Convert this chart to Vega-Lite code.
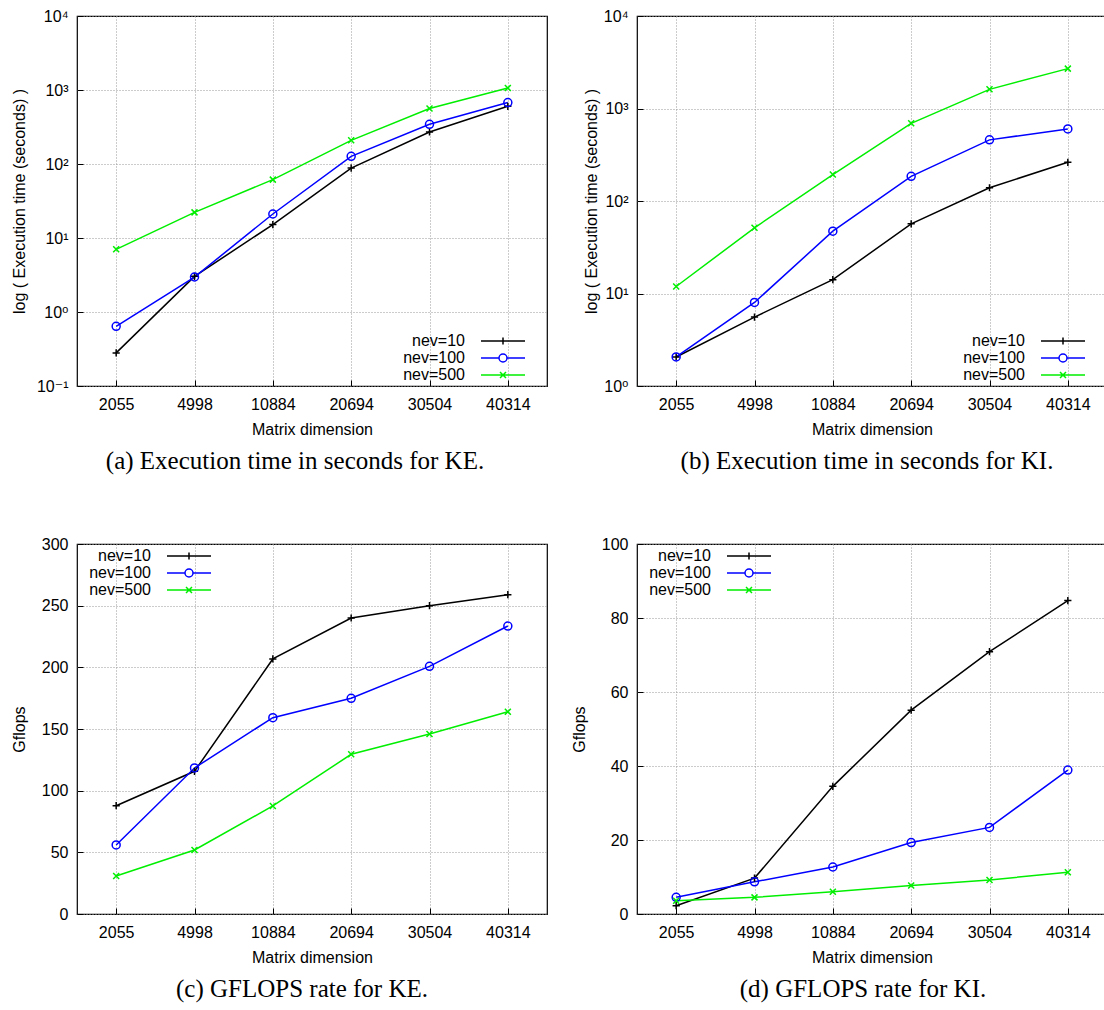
{
  "$schema": "https://vega.github.io/schema/vega-lite/v6.json",
  "padding": {"left": 10, "top": 7, "right": 0, "bottom": 0},
  "background": "white",
  "datasets": {
    "ke_time": [
      {"dim": 2055, "nev": "nev=10", "v": 0.28},
      {"dim": 4998, "nev": "nev=10", "v": 3.03},
      {"dim": 10884, "nev": "nev=10", "v": 15.2},
      {"dim": 20694, "nev": "nev=10", "v": 88},
      {"dim": 30504, "nev": "nev=10", "v": 271},
      {"dim": 40314, "nev": "nev=10", "v": 602},
      {"dim": 2055, "nev": "nev=100", "v": 0.64},
      {"dim": 4998, "nev": "nev=100", "v": 2.97},
      {"dim": 10884, "nev": "nev=100", "v": 21.1},
      {"dim": 20694, "nev": "nev=100", "v": 127},
      {"dim": 30504, "nev": "nev=100", "v": 344},
      {"dim": 40314, "nev": "nev=100", "v": 676},
      {"dim": 2055, "nev": "nev=500", "v": 7.03},
      {"dim": 4998, "nev": "nev=500", "v": 22.2},
      {"dim": 10884, "nev": "nev=500", "v": 61.5},
      {"dim": 20694, "nev": "nev=500", "v": 209},
      {"dim": 30504, "nev": "nev=500", "v": 561},
      {"dim": 40314, "nev": "nev=500", "v": 1064}
    ],
    "ki_time": [
      {"dim": 2055, "nev": "nev=10", "v": 2.06},
      {"dim": 4998, "nev": "nev=10", "v": 5.56},
      {"dim": 10884, "nev": "nev=10", "v": 14.1},
      {"dim": 20694, "nev": "nev=10", "v": 56.7},
      {"dim": 30504, "nev": "nev=10", "v": 139},
      {"dim": 40314, "nev": "nev=10", "v": 262},
      {"dim": 2055, "nev": "nev=100", "v": 2.06},
      {"dim": 4998, "nev": "nev=100", "v": 8.0},
      {"dim": 10884, "nev": "nev=100", "v": 47.2},
      {"dim": 20694, "nev": "nev=100", "v": 185},
      {"dim": 30504, "nev": "nev=100", "v": 458},
      {"dim": 40314, "nev": "nev=100", "v": 602},
      {"dim": 2055, "nev": "nev=500", "v": 11.9},
      {"dim": 4998, "nev": "nev=500", "v": 51.3},
      {"dim": 10884, "nev": "nev=500", "v": 193},
      {"dim": 20694, "nev": "nev=500", "v": 692},
      {"dim": 30504, "nev": "nev=500", "v": 1611},
      {"dim": 40314, "nev": "nev=500", "v": 2698}
    ],
    "ke_gflops": [
      {"dim": 2055, "nev": "nev=10", "v": 87.8},
      {"dim": 4998, "nev": "nev=10", "v": 115.7},
      {"dim": 10884, "nev": "nev=10", "v": 206.8},
      {"dim": 20694, "nev": "nev=10", "v": 240},
      {"dim": 30504, "nev": "nev=10", "v": 250},
      {"dim": 40314, "nev": "nev=10", "v": 258.9},
      {"dim": 2055, "nev": "nev=100", "v": 56},
      {"dim": 4998, "nev": "nev=100", "v": 118.4},
      {"dim": 10884, "nev": "nev=100", "v": 159.2},
      {"dim": 20694, "nev": "nev=100", "v": 174.9},
      {"dim": 30504, "nev": "nev=100", "v": 200.8},
      {"dim": 40314, "nev": "nev=100", "v": 233.5},
      {"dim": 2055, "nev": "nev=500", "v": 30.8},
      {"dim": 4998, "nev": "nev=500", "v": 51.9},
      {"dim": 10884, "nev": "nev=500", "v": 87.6},
      {"dim": 20694, "nev": "nev=500", "v": 129.5},
      {"dim": 30504, "nev": "nev=500", "v": 146},
      {"dim": 40314, "nev": "nev=500", "v": 164}
    ],
    "ki_gflops": [
      {"dim": 2055, "nev": "nev=10", "v": 2.25},
      {"dim": 4998, "nev": "nev=10", "v": 9.7},
      {"dim": 10884, "nev": "nev=10", "v": 34.5},
      {"dim": 20694, "nev": "nev=10", "v": 55.1},
      {"dim": 30504, "nev": "nev=10", "v": 70.9},
      {"dim": 40314, "nev": "nev=10", "v": 84.7},
      {"dim": 2055, "nev": "nev=100", "v": 4.5},
      {"dim": 4998, "nev": "nev=100", "v": 8.7},
      {"dim": 10884, "nev": "nev=100", "v": 12.7},
      {"dim": 20694, "nev": "nev=100", "v": 19.3},
      {"dim": 30504, "nev": "nev=100", "v": 23.4},
      {"dim": 40314, "nev": "nev=100", "v": 38.9},
      {"dim": 2055, "nev": "nev=500", "v": 3.6},
      {"dim": 4998, "nev": "nev=500", "v": 4.5},
      {"dim": 10884, "nev": "nev=500", "v": 6.0},
      {"dim": 20694, "nev": "nev=500", "v": 7.7},
      {"dim": 30504, "nev": "nev=500", "v": 9.2},
      {"dim": 40314, "nev": "nev=500", "v": 11.3}
    ]
  },
  "columns": 2,
  "spacing": {"row": 158, "column": 90},
  "bounds": "flush",
  "resolve": {"scale": {"color": "independent", "x": "independent", "y": "independent"}, "legend": {"color": "independent"}},
  "concat": [
    {
      "width": 470, "height": 370,
      "data": {"name": "ke_time"},
      "title": {"text": "(a) Execution time in seconds for KE.", "orient": "bottom", "anchor": "middle", "dx": -17, "offset": 12, "font": "Liberation Serif", "fontSize": 25, "fontWeight": "normal", "color": "#000"},
      "encoding": {
        "x": {"field": "dim", "type": "ordinal", "scale": {"type": "point", "padding": 0.5}, "axis": {"title": "Matrix dimension"}},
        "y": {"field": "v", "type": "quantitative", "scale": {"type": "log", "domain": [0.1, 10000]}, "axis": {"title": "log ( Execution time (seconds) )", "titleX": -58, "values": [0.1, 1, 10, 100, 1000, 10000], "labelExpr": "datum.value >= 9999 ? '10⁴' : datum.value >= 999 ? '10³' : datum.value >= 99 ? '10²' : datum.value >= 9 ? '10¹' : datum.value >= 0.9 ? '10⁰' : '10⁻¹'"}},
        "color": {"field": "nev", "type": "nominal", "scale": {"domain": ["nev=10", "nev=100", "nev=500"], "range": ["#000000", "#0000ff", "#00ee00"]},
          "legend": {"orient": "none", "legendX": 418, "legendY": 317, "symbolType": {"expr": "datum.value === 'nev=10' ? 'M-5.5,0L5.5,0M0,-0.9L0,0.9' : datum.value === 'nev=100' ? 'M-5.5,0L-1,0M1,0L5.5,0M1,0A1,1,0,1,1,-1,0A1,1,0,1,1,1,0' : 'M-5.5,0L5.5,0M-0.75,-0.75L0.75,0.75M-0.75,0.75L0.75,-0.75'"}}}
      },
      "layer": [
        {"mark": {"type": "line", "strokeWidth": 1.5}},
        {"transform": [{"filter": "datum.nev === 'nev=10'"}], "mark": {"type": "point", "shape": "M-0.9,0L0.9,0M0,-0.9L0,0.9", "filled": false, "size": 64, "strokeWidth": 1.5, "opacity": 1}},
        {"transform": [{"filter": "datum.nev === 'nev=100'"}], "mark": {"type": "point", "shape": "circle", "filled": false, "size": 64, "strokeWidth": 1.5, "opacity": 1}},
        {"transform": [{"filter": "datum.nev === 'nev=500'"}], "mark": {"type": "point", "shape": "M-0.75,-0.75L0.75,0.75M-0.75,0.75L0.75,-0.75", "filled": false, "size": 64, "strokeWidth": 1.5, "opacity": 1}}
      ]
    },
    {
      "width": 470, "height": 370,
      "data": {"name": "ki_time"},
      "title": {"text": "(b) Execution time in seconds for KI.", "orient": "bottom", "anchor": "middle", "dx": -5, "offset": 12, "font": "Liberation Serif", "fontSize": 25, "fontWeight": "normal", "color": "#000"},
      "encoding": {
        "x": {"field": "dim", "type": "ordinal", "scale": {"type": "point", "padding": 0.5}, "axis": {"title": "Matrix dimension"}},
        "y": {"field": "v", "type": "quantitative", "scale": {"type": "log", "domain": [1, 10000]}, "axis": {"title": "log ( Execution time (seconds) )", "titleX": -46, "values": [1, 10, 100, 1000, 10000], "labelExpr": "datum.value >= 9999 ? '10⁴' : datum.value >= 999 ? '10³' : datum.value >= 99 ? '10²' : datum.value >= 9 ? '10¹' : '10⁰'"}},
        "color": {"field": "nev", "type": "nominal", "scale": {"domain": ["nev=10", "nev=100", "nev=500"], "range": ["#000000", "#0000ff", "#00ee00"]},
          "legend": {"orient": "none", "legendX": 418, "legendY": 317, "symbolType": {"expr": "datum.value === 'nev=10' ? 'M-5.5,0L5.5,0M0,-0.9L0,0.9' : datum.value === 'nev=100' ? 'M-5.5,0L-1,0M1,0L5.5,0M1,0A1,1,0,1,1,-1,0A1,1,0,1,1,1,0' : 'M-5.5,0L5.5,0M-0.75,-0.75L0.75,0.75M-0.75,0.75L0.75,-0.75'"}}}
      },
      "layer": [
        {"mark": {"type": "line", "strokeWidth": 1.5}},
        {"transform": [{"filter": "datum.nev === 'nev=10'"}], "mark": {"type": "point", "shape": "M-0.9,0L0.9,0M0,-0.9L0,0.9", "filled": false, "size": 64, "strokeWidth": 1.5, "opacity": 1}},
        {"transform": [{"filter": "datum.nev === 'nev=100'"}], "mark": {"type": "point", "shape": "circle", "filled": false, "size": 64, "strokeWidth": 1.5, "opacity": 1}},
        {"transform": [{"filter": "datum.nev === 'nev=500'"}], "mark": {"type": "point", "shape": "M-0.75,-0.75L0.75,0.75M-0.75,0.75L0.75,-0.75", "filled": false, "size": 64, "strokeWidth": 1.5, "opacity": 1}}
      ]
    },
    {
      "width": 470, "height": 370,
      "data": {"name": "ke_gflops"},
      "title": {"text": "(c) GFLOPS rate for KE.", "orient": "bottom", "anchor": "middle", "dx": -10, "offset": 12, "font": "Liberation Serif", "fontSize": 25, "fontWeight": "normal", "color": "#000"},
      "encoding": {
        "x": {"field": "dim", "type": "ordinal", "scale": {"type": "point", "padding": 0.5}, "axis": {"title": "Matrix dimension"}},
        "y": {"field": "v", "type": "quantitative", "scale": {"domain": [0, 300], "nice": false}, "axis": {"title": "Gflops", "titleX": -58, "values": [0, 50, 100, 150, 200, 250, 300]}},
        "color": {"field": "nev", "type": "nominal", "scale": {"domain": ["nev=10", "nev=100", "nev=500"], "range": ["#000000", "#0000ff", "#00ee00"]},
          "legend": {"orient": "none", "legendX": 104, "legendY": 4, "symbolType": {"expr": "datum.value === 'nev=10' ? 'M-5.5,0L5.5,0M0,-0.9L0,0.9' : datum.value === 'nev=100' ? 'M-5.5,0L-1,0M1,0L5.5,0M1,0A1,1,0,1,1,-1,0A1,1,0,1,1,1,0' : 'M-5.5,0L5.5,0M-0.75,-0.75L0.75,0.75M-0.75,0.75L0.75,-0.75'"}}}
      },
      "layer": [
        {"mark": {"type": "line", "strokeWidth": 1.5}},
        {"transform": [{"filter": "datum.nev === 'nev=10'"}], "mark": {"type": "point", "shape": "M-0.9,0L0.9,0M0,-0.9L0,0.9", "filled": false, "size": 64, "strokeWidth": 1.5, "opacity": 1}},
        {"transform": [{"filter": "datum.nev === 'nev=100'"}], "mark": {"type": "point", "shape": "circle", "filled": false, "size": 64, "strokeWidth": 1.5, "opacity": 1}},
        {"transform": [{"filter": "datum.nev === 'nev=500'"}], "mark": {"type": "point", "shape": "M-0.75,-0.75L0.75,0.75M-0.75,0.75L0.75,-0.75", "filled": false, "size": 64, "strokeWidth": 1.5, "opacity": 1}}
      ]
    },
    {
      "width": 470, "height": 370,
      "data": {"name": "ki_gflops"},
      "title": {"text": "(d) GFLOPS rate for KI.", "orient": "bottom", "anchor": "middle", "dx": -9, "offset": 12, "font": "Liberation Serif", "fontSize": 25, "fontWeight": "normal", "color": "#000"},
      "encoding": {
        "x": {"field": "dim", "type": "ordinal", "scale": {"type": "point", "padding": 0.5}, "axis": {"title": "Matrix dimension"}},
        "y": {"field": "v", "type": "quantitative", "scale": {"domain": [0, 100], "nice": false}, "axis": {"title": "Gflops", "titleX": -58, "values": [0, 20, 40, 60, 80, 100]}},
        "color": {"field": "nev", "type": "nominal", "scale": {"domain": ["nev=10", "nev=100", "nev=500"], "range": ["#000000", "#0000ff", "#00ee00"]},
          "legend": {"orient": "none", "legendX": 104, "legendY": 4, "symbolType": {"expr": "datum.value === 'nev=10' ? 'M-5.5,0L5.5,0M0,-0.9L0,0.9' : datum.value === 'nev=100' ? 'M-5.5,0L-1,0M1,0L5.5,0M1,0A1,1,0,1,1,-1,0A1,1,0,1,1,1,0' : 'M-5.5,0L5.5,0M-0.75,-0.75L0.75,0.75M-0.75,0.75L0.75,-0.75'"}}}
      },
      "layer": [
        {"mark": {"type": "line", "strokeWidth": 1.5}},
        {"transform": [{"filter": "datum.nev === 'nev=10'"}], "mark": {"type": "point", "shape": "M-0.9,0L0.9,0M0,-0.9L0,0.9", "filled": false, "size": 64, "strokeWidth": 1.5, "opacity": 1}},
        {"transform": [{"filter": "datum.nev === 'nev=100'"}], "mark": {"type": "point", "shape": "circle", "filled": false, "size": 64, "strokeWidth": 1.5, "opacity": 1}},
        {"transform": [{"filter": "datum.nev === 'nev=500'"}], "mark": {"type": "point", "shape": "M-0.75,-0.75L0.75,0.75M-0.75,0.75L0.75,-0.75", "filled": false, "size": 64, "strokeWidth": 1.5, "opacity": 1}}
      ]
    }
  ],
  "config": {
    "view": {"stroke": "#000000", "strokeWidth": 1.2},
    "axis": {
      "labelFont": "Liberation Sans, DejaVu Sans", "labelFontSize": 16, "labelColor": "#000000",
      "titleFont": "Liberation Sans", "titleFontSize": 16, "titleFontWeight": "normal", "titleColor": "#000000",
      "grid": true, "gridColor": "#999999", "gridDash": [1, 2], "gridOpacity": 1, "gridWidth": 1,
      "domain": false, "tickColor": "#000000", "tickSize": -6, "tickWidth": 1
    },
    "axisX": {"labelAngle": 0, "labelPadding": 16, "titleY": 43, "titleBaseline": "middle"},
    "axisY": {"labelPadding": 15, "titleAngle": -90, "titleBaseline": "middle", "titleAlign": "center"},
    "legend": {
      "title": null, "labelFont": "Liberation Sans", "labelFontSize": 16, "labelColor": "#000000",
      "labelAlign": "right", "labelOffset": -46, "symbolSize": 64, "symbolStrokeWidth": 1.5,
      "rowPadding": 1, "padding": 0, "symbolFillColor": "transparent"
    }
  }
}
